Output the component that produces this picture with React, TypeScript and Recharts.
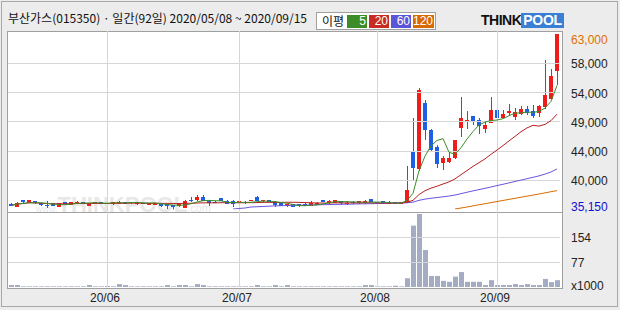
import { ComposedChart, Bar, Line, XAxis, YAxis, ReferenceLine } from "recharts";

// trading days 2020/05/08 ~ 2020/09/15
const dates = [
  "05/08", "05/11", "05/12", "05/13", "05/14", "05/15", "05/18", "05/19", "05/20", "05/21", "05/22",
  "05/25", "05/26", "05/27", "05/28", "05/29",
  "06/01", "06/02", "06/03", "06/04", "06/05", "06/08", "06/09", "06/10", "06/11", "06/12",
  "06/15", "06/16", "06/17", "06/18", "06/19", "06/22", "06/23", "06/24", "06/25", "06/26", "06/29", "06/30",
  "07/01", "07/02", "07/03", "07/06", "07/07", "07/08", "07/09", "07/10", "07/13", "07/14", "07/15", "07/16", "07/17",
  "07/20", "07/21", "07/22", "07/23", "07/24", "07/27", "07/28", "07/29", "07/30", "07/31",
  "08/03", "08/04", "08/05", "08/06", "08/07", "08/10", "08/11", "08/12", "08/13", "08/14",
  "08/18", "08/19", "08/20", "08/21", "08/24", "08/25", "08/26", "08/27", "08/28", "08/31",
  "09/01", "09/02", "09/03", "09/04", "09/07", "09/08", "09/09", "09/10", "09/11", "09/14", "09/15",
];

const opens = [
  36100, 35550, 36600, 36200, 36450, 36200, 35900, 36150, 35600, 36350,
  35950, 36050, 36350, 35750, 36050, 36300, 36200, 36000, 36050, 36350,
  36150, 36000, 36200, 35900, 35950, 36000, 36000, 35850, 35700, 35350,
  36700, 36600, 37200, 36550, 36400, 36950, 36550, 36550, 36450, 36400,
  36550, 37200, 36550, 36650, 36400, 36250, 35650, 36050, 36000, 36100,
  35700, 35900, 36700, 36150, 36250, 36500, 36200, 36400, 36150, 36150,
  36800, 36400, 36500, 36400, 36350, 36100, 36300, 44270, 41630, 52070,
  47830, 45070, 42520, 42630, 43380, 48150, 49000, 49950, 49310, 47880,
  48950, 50900, 49740, 50430, 49840, 50380, 51060, 50750, 50480, 51430,
  52770, 57160,
];

const highs = [
  36150, 36300, 36750, 36700, 36500, 36250, 36550, 36200, 36250, 36400,
  36400, 36450, 36400, 36250, 36350, 36400, 36450, 36400, 36500, 36400,
  36350, 36350, 36250, 36250, 36250, 36050, 36100, 35900, 36050, 36750,
  37200, 37500, 37400, 36600, 36450, 37000, 36600, 36650, 36650, 36450,
  36700, 37250, 36700, 36700, 36450, 36300, 36100, 36100, 36050, 36150,
  36500, 36300, 36750, 36600, 36750, 36550, 36500, 36450, 36550, 36600,
  36850, 36450, 36550, 36450, 36400, 36400, 42000, 49680, 54450, 52600,
  47900, 45340, 43590, 44330, 46200, 53020, 50750, 50050, 49740, 49040,
  53020, 50900, 51020, 51860, 51340, 51540, 51540, 51700, 51700, 58860,
  57430, 63000,
];

const lows = [
  35750, 35500, 36100, 36150, 36100, 35800, 35400, 35700, 35550, 35950,
  35900, 36000, 36000, 35700, 36000, 36000, 35950, 35950, 36000, 36050,
  36100, 35950, 36000, 35850, 35900, 35500, 35300, 35150, 35600, 35350,
  36400, 36550, 36500, 35800, 36150, 36500, 36050, 35600, 36400, 36100,
  36500, 36500, 36400, 36300, 35600, 35750, 35550, 35550, 35600, 35650,
  35650, 35850, 36350, 36100, 36200, 35900, 35900, 36100, 36100, 36100,
  36300, 36100, 36100, 36100, 36050, 36050, 36150, 39770, 41250, 46130,
  44270, 41790, 41470, 42600, 43200, 46660, 47990, 48500, 47200, 47290,
  48900, 49310, 49600, 50110, 49310, 50110, 50110, 49740, 49840, 51180,
  52700, 54880,
];

const closes = [
  35800, 36250, 36300, 36600, 36150, 35850, 35800, 35750, 36200, 36000,
  36350, 36350, 36050, 36200, 36300, 36050, 36150, 36350, 36400, 36100,
  36300, 36300, 36050, 36200, 36200, 35650, 35750, 35550, 36000, 36450,
  36650, 37150, 36550, 36250, 36200, 36550, 36100, 36100, 36550, 36150,
  36650, 36550, 36650, 36350, 35950, 35800, 36050, 35600, 35650, 35700,
  36250, 36250, 36400, 36550, 36700, 36150, 36250, 36150, 36500, 36550,
  36350, 36150, 36150, 36150, 36100, 36350, 38200, 41790, 54090, 47720,
  44540, 42420, 43270, 43270, 46130, 49680, 49360, 49200, 48410, 48520,
  50900, 49740, 50270, 50750, 50630, 51060, 50430, 49950, 51540, 53290,
  56360, 63000,
];

// volume, x1000 shares
const volumes = [
  6, 6, 2, 2, 2, 2, 2, 2, 2, 2,
  2, 2, 2, 6, 2, 2, 3, 2, 9, 6,
  2, 2, 2, 2, 2, 2, 6, 2, 6, 6,
  2, 9, 6, 2, 2, 2, 2, 2, 2, 2,
  2, 6, 2, 2, 6, 2, 6, 2, 2, 2,
  2, 2, 2, 2, 2, 2, 2, 2, 2, 6,
  6, 2, 2, 2, 4, 2, 27, 189, 225, 114,
  34, 34, 19, 16, 32, 46, 16, 16, 16, 6,
  21, 6, 6, 6, 9, 6, 9, 6, 6, 25,
  15, 21,
];

// 60 / 120 day averages as drawn (they start later in the window)
const ma60From = 37;
const ma60 = [
  35245, 35325, 35405, 35560, 35600, 35640, 35690, 35740, 35770, 35800,
  35820, 35840, 35860, 35880, 35910, 35930, 35950, 35970, 35990, 36010,
  36030, 36050, 36070, 36090, 36110, 36130, 36150, 36170, 36200, 36230,
  36330, 36620, 36810, 36950, 37060, 37180, 37300, 37460, 37680, 37900,
  38120, 38320, 38520, 38740, 38960, 39170, 39390, 39610, 39830, 40050,
  40270, 40500, 40780, 41120, 41600,
];
const ma120From = 74;
const ma120 = [
  35250, 35400, 35560, 35740, 35920, 36080, 36260, 36430, 36600, 36770,
  36940, 37110, 37280, 37450, 37620, 37800, 37990, 38160,
];

const priceTicks = [35150, 39792, 44433, 49075, 53717, 58358, 63000];
const priceTickLabels = ["35,150", "40,000", "44,000", "49,000", "54,000", "58,000", "63,000"];
const volumeTicks = [0, 77, 154];
const volumeTickLabels = ["x1000", "77", "154"];
const monthTicks = ["06/01", "07/01", "08/03", "09/01"];
const monthLabels = ["20/06", "20/07", "20/08", "20/09"];

const UP = "#f01c1c";
const DOWN = "#1f5fe6";
const GRID = "#d6d6d6";
const NUM_FONT = "'Liberation Sans', Arial, sans-serif";
const KR_FONT = "'Noto Sans CJK KR', 'Noto Sans', sans-serif";

function trailingMean(values: number[], n: number) {
  return values.map((_, i) => {
    const part = values.slice(Math.max(0, i - n + 1), i + 1);
    return part.reduce((s, v) => s + v, 0) / part.length;
  });
}

const ma5 = trailingMean(closes, 5);
const ma20 = trailingMean(closes, 20);

const rows = dates.map((d, i) => ({
  d,
  open: opens[i],
  high: highs[i],
  low: lows[i],
  close: closes[i],
  vol: volumes[i],
  ma5: ma5[i],
  ma20: ma20[i],
  ma60: i >= ma60From ? ma60[i - ma60From] : null,
  ma120: i >= ma120From ? ma120[i - ma120From] : null,
}));

function Candle(props: any) {
  const { x, y, width, height, payload } = props;
  if (x == null || !payload) return null;
  const { open, close, high, low } = payload;
  const k = high > low ? Math.abs(height) / (high - low) : 0;
  const top = Math.min(y, y + height);
  const bodyTop = top + (high - Math.max(open, close)) * k;
  const bodyBottom = top + (high - Math.min(open, close)) * k;
  const color = close >= open ? UP : DOWN;
  const cx = x + width / 2 + 0.5;
  return (
    <g>
      <line x1={cx} x2={cx} y1={top} y2={top + Math.abs(height)} stroke={color} strokeWidth={1} shapeRendering="crispEdges" />
      <rect x={x + 1} y={bodyTop} width={width - 1} height={Math.max(1, bodyBottom - bodyTop)} fill={color} shapeRendering="crispEdges" />
    </g>
  );
}

function PriceTick(props: any) {
  const { y, payload } = props;
  const idx = priceTicks.indexOf(payload.value);
  const last = priceTicks.length - 1;
  const color = idx === last ? "#e07000" : idx === 0 ? "#1010d0" : "#222";
  const dy = idx === last ? 6 : idx === 0 ? -3 : 1;
  return (
    <text x={571} y={y + dy + 4} fill={color} fontSize={12} fontFamily={NUM_FONT}>
      {priceTickLabels[idx]}
    </text>
  );
}

function VolumeTick(props: any) {
  const { y, payload } = props;
  const idx = volumeTicks.indexOf(payload.value);
  return (
    <text x={571} y={y + (idx === 0 ? -1 : 1) + 4} fill="#222" fontSize={12} fontFamily={NUM_FONT}>
      {volumeTickLabels[idx]}
    </text>
  );
}

function MonthTick(props: any) {
  const { x, payload } = props;
  const idx = monthTicks.indexOf(payload.value);
  return (
    <text x={x - 2} y={90} textAnchor="middle" fill="#222" fontSize={12} fontFamily={NUM_FONT}>
      {monthLabels[idx]}
    </text>
  );
}

const legend = [
  { label: "5", color: "#3c8c28", w: 20 },
  { label: "20", color: "#c82a24", w: 20 },
  { label: "60", color: "#5b55d8", w: 20 },
  { label: "120", color: "#d86a00", w: 21 },
];

export default function App() {
  return (
    <div style={{ position: "absolute", left: 0, top: 0, width: 620, height: 310, background: "#ececec", overflow: "hidden" }}>
      <div style={{ position: "absolute", left: 1, top: 1, width: 617, height: 306, border: "1px solid #a8a8a8", boxSizing: "border-box" }} />

      <div style={{ position: "absolute", left: 8, top: 9, fontFamily: KR_FONT, fontSize: 12, color: "#111", whiteSpace: "nowrap" }}>
        부산가스(015350) · 일간(92일) 2020/05/08 ~ 2020/09/15
      </div>

      <div style={{ position: "absolute", left: 316, top: 12, width: 120, height: 18, background: "#fff", border: "1px solid #a0a0a0", boxSizing: "border-box" }}>
        <span style={{ position: "absolute", left: 5, top: -1, fontFamily: KR_FONT, fontSize: 12, color: "#111" }}>이평</span>
        <div style={{ position: "absolute", left: 30, top: 2, display: "flex", gap: 2 }}>
          {legend.map((l) => (
            <div key={l.label} style={{ width: l.w, height: 13, background: l.color, color: "#fff", fontFamily: NUM_FONT, fontSize: 12, lineHeight: "13px", textAlign: "right", paddingRight: 1, boxSizing: "border-box" }}>
              {l.label}
            </div>
          ))}
        </div>
      </div>

      <div style={{ position: "absolute", left: 481, top: 12, height: 16, display: "flex", alignItems: "center", fontFamily: NUM_FONT, fontWeight: 700, fontSize: 14 }}>
        <span style={{ color: "#111", letterSpacing: -0.5 }}>THINK</span>
        <span style={{ color: "#fff", background: "#3b7fd4", padding: "0 2px", lineHeight: "15px", letterSpacing: -0.3 }}>POOL</span>
      </div>

      <div style={{ position: "absolute", left: 7, top: 31, width: 556, height: 182, background: "#fff", border: "1px solid #a0a0a0", boxSizing: "border-box" }} />
      <div style={{ position: "absolute", left: 7, top: 212, width: 556, height: 77, background: "#fff", border: "1px solid #a0a0a0", boxSizing: "border-box" }} />

      <div style={{ position: "absolute", left: 36, top: 192, color: "#e8e8e8", fontFamily: NUM_FONT, whiteSpace: "nowrap" }}>
        <span style={{ fontSize: 9 }}>www.</span>
        <span style={{ fontSize: 22, fontWeight: 700 }}>THINKPOOL</span>
        <span style={{ fontSize: 11 }}>.com</span>
      </div>

      <div style={{ position: "absolute", left: 0, top: 0 }}>
        <ComposedChart width={620} height={213} data={rows} margin={{ top: 31, right: 0, bottom: 1, left: 8 }} barCategoryGap={0}>
          <XAxis dataKey="d" type="category" hide />
          <YAxis
            orientation="right"
            width={60}
            type="number"
            domain={[35150, 63000]}
            padding={{ top: 3, bottom: 2.4 }}
            ticks={priceTicks}
            interval={0}
            tick={<PriceTick />}
            axisLine={false}
            tickLine={false}
            allowDataOverflow
          />
          {priceTicks.slice(1, -1).map((v) => (
            <ReferenceLine key={v} y={v} stroke={GRID} strokeWidth={1} shapeRendering="crispEdges" />
          ))}
          {monthTicks.map((m) => (
            <ReferenceLine key={m} x={m} stroke={GRID} strokeWidth={1} shapeRendering="crispEdges" />
          ))}
          <Line dataKey="ma120" stroke="#d86a00" strokeWidth={1} dot={false} isAnimationActive={false} />
          <Line dataKey="ma60" stroke="#6a55e0" strokeWidth={1} dot={false} isAnimationActive={false} />
          <Line dataKey="ma20" stroke="#b82020" strokeWidth={1} dot={false} isAnimationActive={false} />
          <Line dataKey="ma5" stroke="#3c8c28" strokeWidth={1} dot={false} isAnimationActive={false} />
          <Bar dataKey={(r: any) => [r.low, r.high]} barSize={6} shape={<Candle />} isAnimationActive={false} />
        </ComposedChart>
      </div>

      <div style={{ position: "absolute", left: 0, top: 212 }}>
        <ComposedChart width={620} height={98} data={rows} margin={{ top: 0, right: 0, bottom: 0, left: 8 }} barCategoryGap={0}>
          <XAxis dataKey="d" type="category" ticks={monthTicks} interval={0} height={23} tick={<MonthTick />} axisLine={false} tickLine={false} />
          <YAxis
            orientation="right"
            width={60}
            type="number"
            domain={[0, 231]}
            ticks={volumeTicks}
            interval={0}
            tick={<VolumeTick />}
            axisLine={false}
            tickLine={false}
          />
          {volumeTicks.slice(1).map((v) => (
            <ReferenceLine key={v} y={v} stroke={GRID} strokeWidth={1} shapeRendering="crispEdges" />
          ))}
          {monthTicks.map((m) => (
            <ReferenceLine key={m} x={m} stroke={GRID} strokeWidth={1} shapeRendering="crispEdges" />
          ))}
          <Bar dataKey="vol" fill="#a3acc3" barSize={5} isAnimationActive={false} />
        </ComposedChart>
      </div>
    </div>
  );
}
